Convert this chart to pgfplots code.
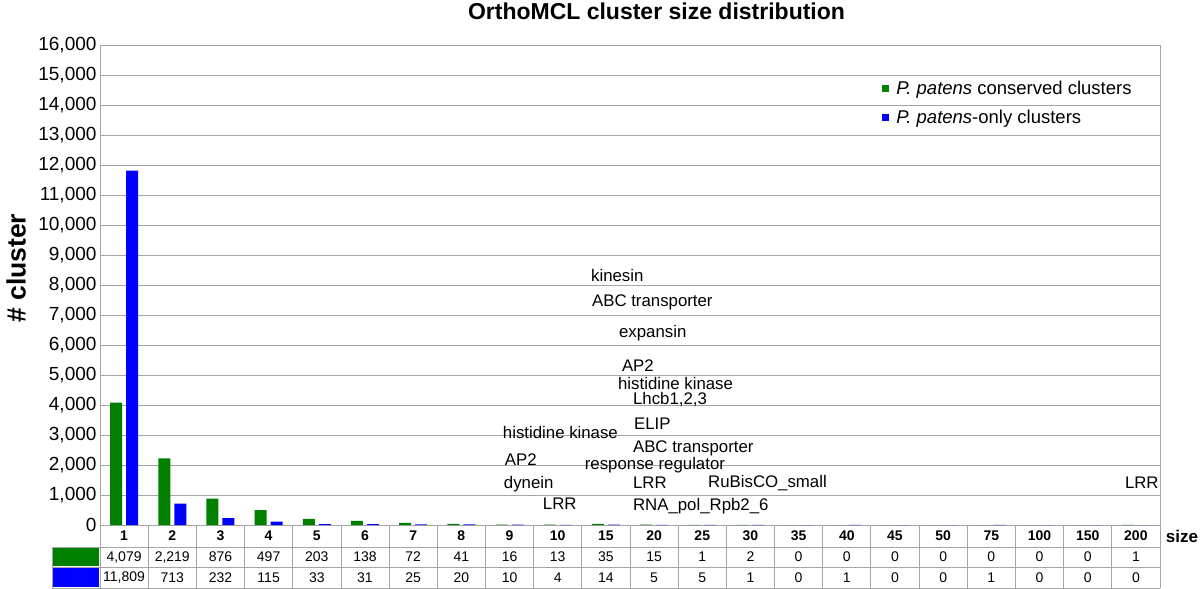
\documentclass[border=0pt]{standalone}
\usepackage{fontspec}
\setmainfont{Liberation Sans}
\usepackage{pgfplots}
\usepackage{pgfplotstable}
\pgfplotsset{compat=1.18}

\definecolor{consgreen}{RGB}{0,128,0}
\definecolor{onlyblue}{RGB}{0,0,255}
\definecolor{gridgray}{RGB}{165,165,165}

\newcommand{\fs}[1]{\fontsize{#1bp}{#1bp}\selectfont}

% cluster size distribution: conserved vs P. patens-only
\pgfplotstableread{
idx size cons only
0  1   4079 11809
1  2   2219 713
2  3   876  232
3  4   497  115
4  5   203  33
5  6   138  31
6  7   72   25
7  8   41   20
8  9   16   10
9  10  13   4
10 15  35   14
11 20  15   5
12 25  1    5
13 30  2    1
14 35  0    0
15 40  0    1
16 45  0    0
17 50  0    0
18 75  0    1
19 100 0    0
20 150 0    0
21 200 1    0
}\datatable

\begin{document}
\begin{tikzpicture}
\useasboundingbox (-100bp,-64bp) rectangle (1100bp,525bp);
\begin{axis}[
    at={(0,0)}, anchor=south west,
    scale only axis, width=1060bp, height=480bp,
    xmin=-0.5, xmax=21.5, ymin=0, ymax=16000,
    clip=false,
    axis line style={gridgray, line width=0.8pt},
    major tick length=0pt,
    scaled y ticks=false,
    ytick={0,1000,...,16000},
    ymajorgrids, grid style={gridgray, line width=0.8pt},
    xtick={0,...,21},
    xticklabels from table={\datatable}{size},
    xticklabel style={font=\fs{14}\bfseries, anchor=center, yshift=-11bp},
    yticklabel style={font=\fs{19}},
    /pgf/number format/assume math mode=true,
    /pgf/number format/1000 sep={,},
    legend style={draw=none, fill=none, font=\fs{18.5}, inner sep=0pt,
        at={(axis description cs:0.738,0.929)}, anchor=north west,
        row sep=10bp},
    legend cell align=left,
]
\addplot[ybar, bar width=12bp, bar shift=-8bp, fill=consgreen, draw=none,
    legend image code/.code={\fill[consgreen] (0bp,-3.5bp) rectangle (7bp,3.5bp);
        \path (12bp,0bp);}]
    table[x=idx, y=cons] {\datatable};
\addlegendentry{\textit{P. patens} conserved clusters}
\addplot[ybar, bar width=12bp, bar shift=8bp, fill=onlyblue, draw=none,
    legend image code/.code={\fill[onlyblue] (0bp,-3.5bp) rectangle (7bp,3.5bp);
        \path (12bp,0bp);}]
    table[x=idx, y=only] {\datatable};
\addlegendentry{\textit{P. patens}-only clusters}

% data table rows under the axis
\addplot[forget plot, draw=none, mark=none, nodes near coords, point meta=explicit,
    every node near coord/.append style={anchor=center, font=\fs{14}, inner sep=0pt}]
    table[x=idx, y expr=-1067, meta=cons] {\datatable};
\addplot[forget plot, draw=none, mark=none, nodes near coords, point meta=explicit,
    every node near coord/.append style={anchor=center, font=\fs{14}, inner sep=0pt}]
    table[x=idx, y expr=-1750, meta=only] {\datatable};

\pgfplotsinvokeforeach{-0.5,0.5,...,21.5}{
    \draw[gridgray, line width=0.8pt] (axis cs:#1,0) -- (axis cs:#1,-2100);
}
\draw[gridgray, line width=0.8pt] (axis cs:-1.49,-733) -- (axis cs:21.5,-733);
\draw[gridgray, line width=0.8pt] (axis cs:-1.49,-1400) -- (axis cs:21.5,-1400);
\draw[gridgray, line width=0.8pt] (axis cs:-1.49,-2100) -- (axis cs:21.5,-2100);
\draw[gridgray, line width=0.8pt] (axis cs:-1.49,-733) -- (axis cs:-1.49,-2100);
\fill[consgreen] (axis cs:-1.47,-770) rectangle (axis cs:-0.53,-1370);
\fill[onlyblue] (axis cs:-1.47,-1430) rectangle (axis cs:-0.53,-2070);

% gene family annotations
\begin{scope}[every node/.style={anchor=west, inner sep=0pt, font=\fs{16.8}}]
\node at (axis cs:9.69,8333) {kinesin};
\node at (axis cs:9.71,7433) {ABC transporter};
\node at (axis cs:10.27,6400) {expansin};
\node at (axis cs:10.33,5300) {AP2};
\node at (axis cs:10.25,4733) {histidine kinase};
\node at (axis cs:10.56,4200) {Lhcb1,2,3};
\node at (axis cs:10.58,3367) {ELIP};
\node at (axis cs:7.86,3100) {histidine kinase};
\node at (axis cs:10.56,2560) {ABC transporter};
\node at (axis cs:7.90,2167) {AP2};
\node at (axis cs:9.56,1990) {response regulator};
\node at (axis cs:7.88,1367) {dynein};
\node at (axis cs:10.56,1400) {LRR};
\node at (axis cs:12.12,1400) {RuBisCO\_small};
\node at (axis cs:8.69,700) {LRR};
\node at (axis cs:10.56,633) {RNA\_pol\_Rpb2\_6};
\node at (axis cs:20.77,1400) {LRR};
\end{scope}

\node[font=\fs{23}\bfseries] at (axis description cs:0.525,1) [yshift=33.5bp] {OrthoMCL cluster size distribution};
\node[font=\fs{26.5}\bfseries, rotate=90] at (axis description cs:-0.079,0.535) {\# cluster};
\node[font=\fs{17}\bfseries] at (axis description cs:1.0208,-0.0229) {size};
\end{axis}
\end{tikzpicture}
\end{document}
